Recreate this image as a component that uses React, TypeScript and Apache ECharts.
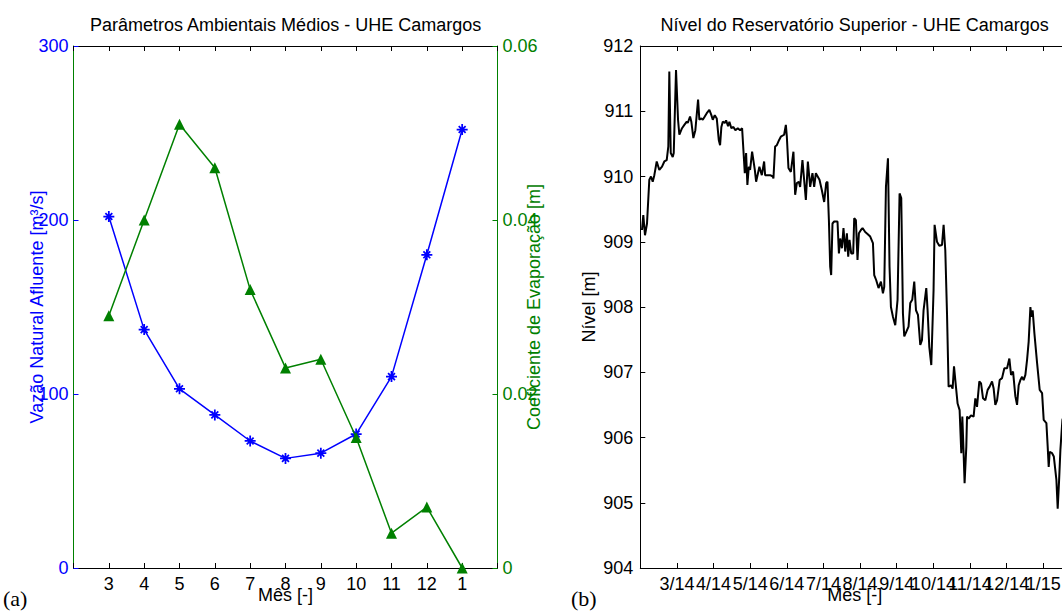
import React, { useEffect, useRef } from "react";
import * as echarts from "echarts";

// ---- Panel (a) data ----
const months = ["3", "4", "5", "6", "7", "8", "9", "10", "11", "12", "1"];
const vazao = [202, 137, 103, 88, 73, 63, 66, 77, 110, 180, 252];
const evaporacao = [0.029, 0.04, 0.051, 0.046, 0.032, 0.023, 0.024, 0.015, 0.004, 0.007, 0];

// ---- Panel (b) data ----
const dateLabels = ["3/14", "4/14", "5/14", "6/14", "7/14", "8/14", "9/14", "10/14", "11/14", "12/14", "1/15"];
// time in months from start of record (tick 1 = 3/14)
const levelT = [
  0.046, 0.082, 0.128, 0.183, 0.246, 0.292, 0.339, 0.383, 0.448, 0.519, 0.593, 0.656, 0.721, 0.765, 0.792, 0.831,
  0.885, 0.913, 0.975, 1.03, 1.066, 1.139, 1.202, 1.268, 1.295, 1.358, 1.393, 1.448, 1.503, 1.577, 1.612, 1.667,
  1.705, 1.76, 1.814, 1.885, 1.94, 1.978, 2.033, 2.087, 2.142, 2.178, 2.213, 2.251, 2.306, 2.342, 2.396, 2.432,
  2.486, 2.541, 2.596, 2.661, 2.724, 2.779, 2.814, 2.852, 2.888, 2.923, 2.962, 2.997, 3.052, 3.126, 3.161, 3.251,
  3.317, 3.38, 3.407, 3.544, 3.617, 3.634, 3.68, 3.727, 3.79, 3.836, 3.926, 3.973, 4.0, 4.044, 4.109, 4.18,
  4.227, 4.273, 4.328, 4.363, 4.426, 4.519, 4.574, 4.637, 4.699, 4.746, 4.792, 4.891, 4.956, 5.019, 5.074, 5.109,
  5.148, 5.183, 5.21, 5.246, 5.292, 5.383, 5.421, 5.456, 5.503, 5.546, 5.593, 5.639, 5.675, 5.71, 5.757, 5.811,
  5.839, 5.885, 5.929, 5.967, 6.022, 6.066, 6.139, 6.202, 6.276, 6.35, 6.385, 6.44, 6.503, 6.568, 6.623, 6.659,
  6.705, 6.76, 6.803, 6.841, 6.896, 6.959, 7.022, 7.077, 7.123, 7.169, 7.205, 7.26, 7.322, 7.369, 7.423, 7.478,
  7.525, 7.579, 7.642, 7.688, 7.732, 7.806, 7.842, 7.888, 7.943, 8.005, 8.033, 8.098, 8.161, 8.235, 8.279, 8.325,
  8.372, 8.415, 8.481, 8.525, 8.563, 8.607, 8.661, 8.716, 8.762, 8.79, 8.825, 8.852, 8.899, 8.918, 8.962, 9.027,
  9.098, 9.145, 9.191, 9.254, 9.301, 9.355, 9.418, 9.481, 9.536, 9.601, 9.645, 9.691, 9.738, 9.809, 9.874, 9.937,
  10.011, 10.074, 10.12, 10.175, 10.238, 10.284, 10.328, 10.374, 10.421, 10.464, 10.511, 10.557, 10.601, 10.648, 10.675, 10.71,
  10.757, 10.831, 10.902, 10.967, 11.011, 11.085, 11.12, 11.148, 11.175, 11.24, 11.287, 11.358, 11.393, 11.432, 11.467, 11.522,
  11.63,
];
const levelM = [
  909.18, 909.41, 909.1, 909.28, 909.95, 910.0, 909.92, 910.02, 910.23, 910.1, 910.15, 910.23, 910.25, 910.46, 911.61, 910.36,
  910.3, 910.36, 911.63, 910.87, 910.64, 910.74, 910.79, 910.84, 910.82, 910.92, 910.84, 910.59, 910.71, 911.18, 910.87, 910.89,
  910.87, 910.92, 910.97, 911.02, 910.94, 910.87, 910.94, 910.89, 910.56, 910.48, 910.76, 910.84, 910.82, 910.86, 910.77, 910.84,
  910.74, 910.76, 910.71, 910.74, 910.71, 910.74, 910.41, 910.05, 910.36, 909.87, 910.15, 910.1, 910.38, 910.1, 909.92, 910.15,
  910.02, 910.23, 910.02, 910.02, 910.0, 909.97, 910.46, 910.48, 910.56, 910.61, 910.64, 910.79, 910.61, 910.13, 910.07, 910.38,
  909.72, 909.9, 909.92, 909.84, 910.25, 909.64, 910.23, 909.84, 910.05, 909.84, 910.05, 909.95, 909.79, 909.61, 909.9, 909.92,
  909.33, 908.62, 908.49, 909.28, 909.31, 909.31, 908.82, 909.05, 908.9, 909.21, 908.85, 909.13, 908.77, 909.03, 908.82, 908.82,
  909.36, 909.33, 908.72, 909.13, 909.18, 909.21, 909.15, 909.12, 909.08, 908.98, 908.49, 908.41, 908.29, 908.39, 908.21, 908.31,
  909.84, 910.28, 908.62, 908.0, 907.85, 907.72, 908.11, 909.74, 909.67, 907.9, 907.55, 907.62, 907.7, 908.06, 908.11, 908.39,
  907.95, 907.88, 907.42, 907.49, 907.95, 908.29, 907.95, 907.39, 907.11, 908.26, 909.26, 909.0, 908.94, 908.95, 909.26, 908.87,
  907.9, 906.78, 906.8, 906.75, 907.09, 906.83, 906.52, 906.42, 905.76, 906.32, 905.76, 905.3, 905.86, 906.32, 906.29, 906.34,
  906.32, 906.6, 906.47, 906.86, 906.83, 906.6, 906.57, 906.73, 906.78, 906.86, 906.75, 906.5, 906.57, 906.88, 906.91, 907.06,
  907.06, 907.21, 906.96, 907.01, 906.63, 906.5, 906.8, 906.88, 906.93, 906.88, 906.96, 907.19, 907.47, 908.0, 907.85, 907.95,
  907.6, 907.14, 906.73, 906.68, 906.27, 906.22, 905.86, 905.55, 905.78, 905.76, 905.71, 905.35, 904.91, 905.35, 905.81, 906.27,
  906.45,
];
const levelTMax = 11.71;

const FONT = "Liberation Sans, Arial, sans-serif";
const BLUE = "#0000ff";
const GREEN = "#008000";
const ASTERISK =
  "path://M4.2 0 h1.6 v10 h-1.6 Z M0 4.2 h10 v1.6 h-10 Z M1.3 2.43 L2.43 1.3 L8.7 7.57 L7.57 8.7 Z M7.57 1.3 L8.7 2.43 L2.43 8.7 L1.3 7.57 Z";

export default function App() {
  const ref = useRef<HTMLDivElement>(null);
  useEffect(() => {
    if (!ref.current) return;
    document.documentElement.style.overflow = "hidden";
    document.body.style.overflow = "hidden";
    const chart = echarts.init(ref.current, null, { renderer: "svg" });
    const tickStyle = (color: string) => ({ show: true, inside: true, length: 5, lineStyle: { color, width: 1 } });
    const lbl = (color: string) => ({ color, fontSize: 18, fontFamily: FONT });
    const option: any = {
      animation: false,
      backgroundColor: "#ffffff",
      grid: [
        { left: 73.5, top: 46, width: 424, height: 522, outerBoundsMode: "none", containLabel: false },
        { left: 640.3, top: 46, width: 429, height: 522, outerBoundsMode: "none", containLabel: false },
      ],
      xAxis: [
        {
          gridIndex: 0,
          type: "value",
          position: "bottom",
          min: 0,
          max: 12,
          interval: 1,
          axisLine: { show: true, onZero: false, lineStyle: { color: "#000", width: 1 } },
          axisTick: tickStyle("#000"),
          splitLine: { show: false },
          axisLabel: {
            ...lbl("#000"),
            margin: 7,
            formatter: (v: number) => (v >= 1 && v <= months.length && Number.isInteger(v) ? months[v - 1] : ""),
          },
          name: "Mês [-]",
          nameLocation: "middle",
          nameGap: 18,
          nameMoveOverlap: false,
          nameTextStyle: { ...lbl("#000") },
        },
        {
          gridIndex: 0,
          type: "value",
          position: "top",
          min: 0,
          max: 12,
          interval: 1,
          axisLine: { show: true, onZero: false, lineStyle: { color: "#000", width: 1 } },
          axisTick: tickStyle("#000"),
          splitLine: { show: false },
          axisLabel: { show: false },
        },
        {
          gridIndex: 1,
          type: "value",
          position: "bottom",
          min: 0,
          max: levelTMax,
          interval: 1,
          axisLine: { show: true, onZero: false, lineStyle: { color: "#000", width: 1 } },
          axisTick: tickStyle("#000"),
          splitLine: { show: false },
          axisLabel: {
            ...lbl("#000"),
            margin: 7,
            hideOverlap: false,
            showMaxLabel: false,
            formatter: (v: number) =>
              v >= 1 && v <= dateLabels.length && Number.isInteger(v) ? dateLabels[v - 1] : "",
          },
          name: "Mês [-]",
          nameLocation: "middle",
          nameGap: 18,
          nameMoveOverlap: false,
          nameTextStyle: { ...lbl("#000") },
        },
        {
          gridIndex: 1,
          type: "value",
          position: "top",
          min: 0,
          max: levelTMax,
          interval: 1,
          axisLine: { show: true, onZero: false, lineStyle: { color: "#000", width: 1 } },
          axisTick: tickStyle("#000"),
          splitLine: { show: false },
          axisLabel: { show: false },
        },
      ],
      yAxis: [
        {
          gridIndex: 0,
          type: "value",
          position: "left",
          min: 0,
          max: 300,
          interval: 100,
          axisLine: { show: true, onZero: false, lineStyle: { color: GREEN, width: 1 } },
          axisTick: tickStyle(BLUE),
          splitLine: { show: false },
          axisLabel: { ...lbl(BLUE), margin: 5 },
          name: "Vazão Natural Afluente [m³/s]",
          nameLocation: "middle",
          nameRotate: 90,
          nameGap: 28,
          nameMoveOverlap: false,
          nameTextStyle: { ...lbl(BLUE) },
        },
        {
          gridIndex: 0,
          type: "value",
          position: "right",
          min: 0,
          max: 0.06,
          interval: 0.02,
          axisLine: { show: true, onZero: false, lineStyle: { color: GREEN, width: 1 } },
          axisTick: tickStyle(GREEN),
          splitLine: { show: false },
          axisLabel: { ...lbl(GREEN), margin: 5 },
          name: "Coeficiente de Evaporação [m]",
          nameLocation: "middle",
          nameRotate: 90,
          nameGap: 27,
          nameMoveOverlap: false,
          nameTextStyle: { ...lbl(GREEN) },
        },
        {
          gridIndex: 1,
          type: "value",
          position: "left",
          min: 904,
          max: 912,
          interval: 1,
          axisLine: { show: true, onZero: false, lineStyle: { color: "#000", width: 1 } },
          axisTick: tickStyle("#000"),
          splitLine: { show: false },
          axisLabel: { ...lbl("#000"), margin: 7 },
          name: "Nível [m]",
          nameLocation: "middle",
          nameRotate: 90,
          nameGap: 42,
          nameMoveOverlap: false,
          nameTextStyle: { ...lbl("#000") },
        },
        {
          gridIndex: 1,
          type: "value",
          position: "right",
          min: 904,
          max: 912,
          interval: 1,
          axisLine: { show: true, onZero: false, lineStyle: { color: "#000", width: 1 } },
          axisTick: tickStyle("#000"),
          splitLine: { show: false },
          axisLabel: { show: false },
        },
      ],
      series: [
        {
          type: "line",
          xAxisIndex: 0,
          yAxisIndex: 0,
          data: vazao.map((v, i) => [i + 1, v]),
          symbol: ASTERISK,
          symbolSize: 11,
          itemStyle: { color: BLUE },
          lineStyle: { color: BLUE, width: 1.5 },
          z: 3,
        },
        {
          type: "line",
          xAxisIndex: 0,
          yAxisIndex: 1,
          data: evaporacao.map((v, i) => [i + 1, v]),
          symbol: "triangle",
          symbolSize: 11,
          itemStyle: { color: GREEN },
          lineStyle: { color: GREEN, width: 1.5 },
          clip: false,
          z: 4,
        },
        {
          type: "line",
          xAxisIndex: 2,
          yAxisIndex: 2,
          data: levelT.map((t, i) => [t, levelM[i]]),
          showSymbol: false,
          symbol: "none",
          lineStyle: { color: "#000", width: 2 },
        },
      ],
      graphic: [
        {
          type: "text",
          x: 285.6,
          y: 25,
          style: {
            text: "Parâmetros Ambientais Médios - UHE Camargos",
            fill: "#000",
            font: `18px ${FONT}`,
            textAlign: "center",
            textVerticalAlign: "middle",
          },
        },
        {
          type: "text",
          x: 854.7,
          y: 25,
          style: {
            text: "Nível do Reservatório Superior - UHE Camargos",
            fill: "#000",
            font: `18px ${FONT}`,
            textAlign: "center",
            textVerticalAlign: "middle",
          },
        },
        {
          type: "text",
          x: 3,
          y: 598,
          style: {
            text: "(a)",
            fill: "#000",
            font: `22px Liberation Serif, Times New Roman, serif`,
            textAlign: "left",
            textVerticalAlign: "middle",
          },
        },
        {
          type: "text",
          x: 571,
          y: 598,
          style: {
            text: "(b)",
            fill: "#000",
            font: `22px Liberation Serif, Times New Roman, serif`,
            textAlign: "left",
            textVerticalAlign: "middle",
          },
        },
      ],
    };
    chart.setOption(option);
    return () => chart.dispose();
  }, []);
  return (
    <div
      ref={ref}
      style={{ position: "fixed", left: 0, top: 0, width: 1062, height: 615, background: "#fff" }}
    />
  );
}
